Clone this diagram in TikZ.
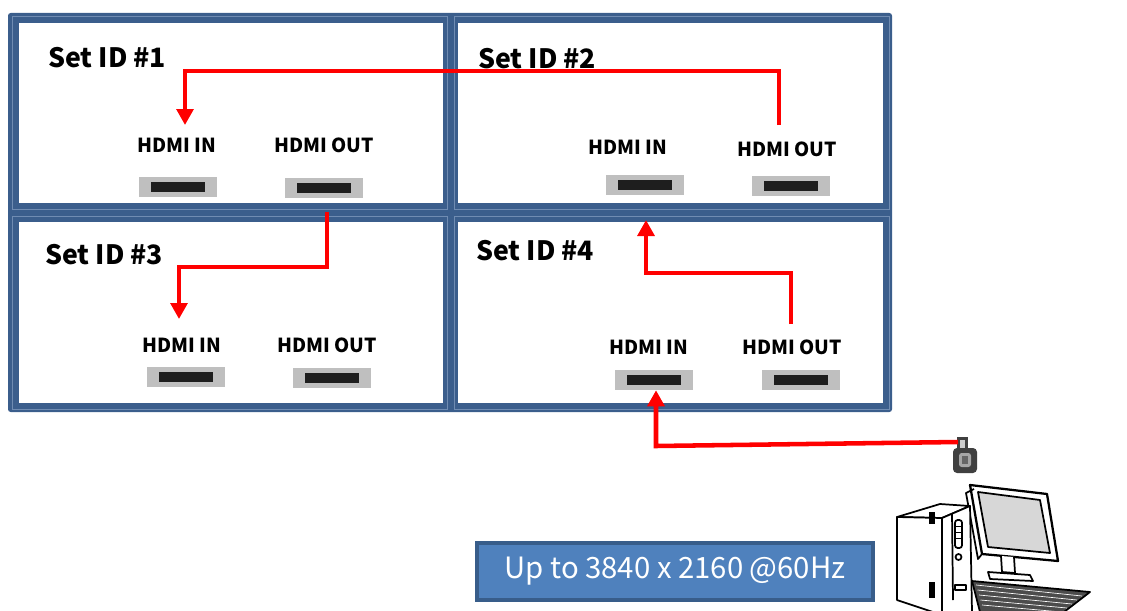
\documentclass[tikz,border=0pt]{standalone}
\usepackage{fontspec}
\setmainfont{Noto Sans CJK KR}
\usetikzlibrary{arrows.meta}
\usetikzlibrary{positioning}
\definecolor{framblue}{RGB}{59,94,140}
\definecolor{seamblue}{RGB}{112,140,178}
\definecolor{portgray}{RGB}{191,191,191}
\definecolor{slotblack}{RGB}{30,30,30}
\definecolor{boxblue}{RGB}{79,129,189}
\definecolor{boxedge}{RGB}{56,93,138}
\definecolor{screengray}{RGB}{215,215,215}
\tikzset{
  setid/.style={font=\fontsize{20}{24}\selectfont\bfseries, anchor=base west, inner sep=0pt},
  hdmi/.style={font=\fontsize{14.5}{17}\selectfont\bfseries, inner sep=0pt},
  portbox/.style={fill=portgray, minimum width=58.5pt, minimum height=15pt, inner sep=0pt},
  portslot/.style={fill=slotblack, minimum width=40.5pt, minimum height=7.5pt, inner sep=0pt},
  link/.style={red, line width=3.4pt, -{Triangle[length=12pt,width=12.5pt]}},
  seam/.style={seamblue, very thin},
  pcline/.style={black, line width=1.3pt, line join=round}
}
\begin{document}
\begin{tikzpicture}[x=0.75pt,y=-0.75pt]
\useasboundingbox (0,0) rectangle (1127,610);
% video wall frame
\fill[framblue, rounded corners=2pt] (8,13) rectangle (892,412);
\fill[white] (19,23) rectangle (443,203);
\fill[white] (458,23) rectangle (883,203);
\fill[white] (19,222) rectangle (443,403);
\fill[white] (458,222) rectangle (883,403);
\draw[seam] (12,16) rectangle (447,209);
\draw[seam] (454,16) rectangle (889,209);
\draw[seam] (12,216) rectangle (447,409);
\draw[seam] (454,216) rectangle (889,409);

% set ids
\node[setid] (id1) at (48,68) {Set ID \#1};
\node[setid] (id2) at (478,69) {Set ID \#2};
\node[setid] (id3) at (45,264) {Set ID \#3};
\node[setid] (id4) at (476,260) {Set ID \#4};

% hdmi labels
\node[hdmi] (in1) at (177,145) {HDMI IN};
\node[hdmi] (out1) at (324,145) {HDMI OUT};
\node[hdmi] (in2) at (628,147) {HDMI IN};
\node[hdmi] (out2) at (787,149) {HDMI OUT};
\node[hdmi] (in3) at (182,345) {HDMI IN};
\node[hdmi] (out3) at (327,345) {HDMI OUT};
\node[hdmi] (in4) at (649,347) {HDMI IN};
\node[hdmi] (out4) at (792,347) {HDMI OUT};

% ports
\node[portbox] (pin1) at (178,187) {};
\node[portslot] at (pin1) {};
\node[portbox] (pout1) at (324,188) {};
\node[portslot] at (pout1) {};
\node[portbox] (pin2) at (645,185) {};
\node[portslot] at (pin2) {};
\node[portbox] (pout2) at (791,186) {};
\node[portslot] at (pout2) {};
\node[portbox] (pin3) at (186,377) {};
\node[portslot] at (pin3) {};
\node[portbox] (pout3) at (332,378) {};
\node[portslot] at (pout3) {};
\node[portbox] (pin4) at (654,380) {};
\node[portslot] at (pin4) {};
\node[portbox] (pout4) at (801,380) {};
\node[portslot] at (pout4) {};

% pc
\coordinate (plug) at (958,442);
\fill[black!75] (957,437) rectangle (968,449);
\fill[black!20] (960,440) rectangle (965,449);
\fill[black!75, rounded corners=3pt] (953,448) rectangle (977,473);
\fill[black!35, rounded corners=2pt] (959,453) rectangle (971,467);
\fill[black!60] (962,456) rectangle (968,464);
% monitor
\draw[pcline, line width=1.7pt, fill=white] (970,485) -- (1047,494) -- (1058,561) -- (982,554) -- cycle;
\draw[pcline, fill=screengray] (978,492) -- (1040,500) -- (1050,553) -- (988,547) -- cycle;
\draw[pcline] (974,489) -- (966,493) -- (978,559) -- (982,554);
\draw[pcline, fill=white] (1001,556) -- (1002,572) -- (1015,573) -- (1014,557);
\draw[pcline, fill=white] (988,572) -- (1030,575) -- (1033,581) -- (990,579) -- cycle;
% keyboard
\draw[pcline, fill=black!70] (972,581) -- (1090,592) -- (1064,612) -- (980,612) -- cycle;
\foreach \k in {0,1,2,3,4} {
  \draw[white, line width=0.5pt] (976+1.5*\k,585+5*\k) -- (1082-5*\k,596+4*\k);
}
% tower
\draw[pcline, fill=white] (897,517) -- (940,504) -- (970,506) -- (942,518) -- cycle;
\draw[pcline, fill=white] (897,517) -- (942,518) -- (942,615) -- (897,600) -- cycle;
\draw[pcline, fill=white] (942,518) -- (970,506) -- (972,612) -- (942,615) -- cycle;
\draw[pcline] (952,513) -- (953,600);
\draw[pcline, fill=white, rounded corners=2pt] (955,520) rectangle (962,548);
\foreach \b in {526,532,538} {
  \draw[black, line width=0.6pt] (956,\b) -- (961,\b);
}
\draw[pcline] (958.5,557) circle (3);
\fill[black] (929,512) rectangle (935,524);
\fill[black] (929,582) rectangle (935,598);
\draw[pcline] (955,585) rectangle (966,590);

% resolution box
\node[fill=boxblue, draw=boxedge, line width=2.5pt, minimum width=297pt, minimum height=42.75pt,
  text=white, font=\fontsize{22}{26}\selectfont] (res) at (675,571.5) {Up to 3840 x 2160 @60Hz};

% daisy chain
\coordinate (s1) at (779,125);
\coordinate (e1) at (185,125);
\draw[link] (s1) -- (779,71) -| (e1);
\coordinate (s2) at (327,212);
\coordinate (e2) at (179,319);
\draw[link] (s2) -- (327,267) -| (e2);
\coordinate (s3) at (791,324);
\coordinate (e3) at (646,220);
\draw[link] (s3) -- (791,273) -| (e3);
\draw[link] (plug) -- (656,446) -- (pin4.south -| 656,0);

\end{tikzpicture}
\end{document}
